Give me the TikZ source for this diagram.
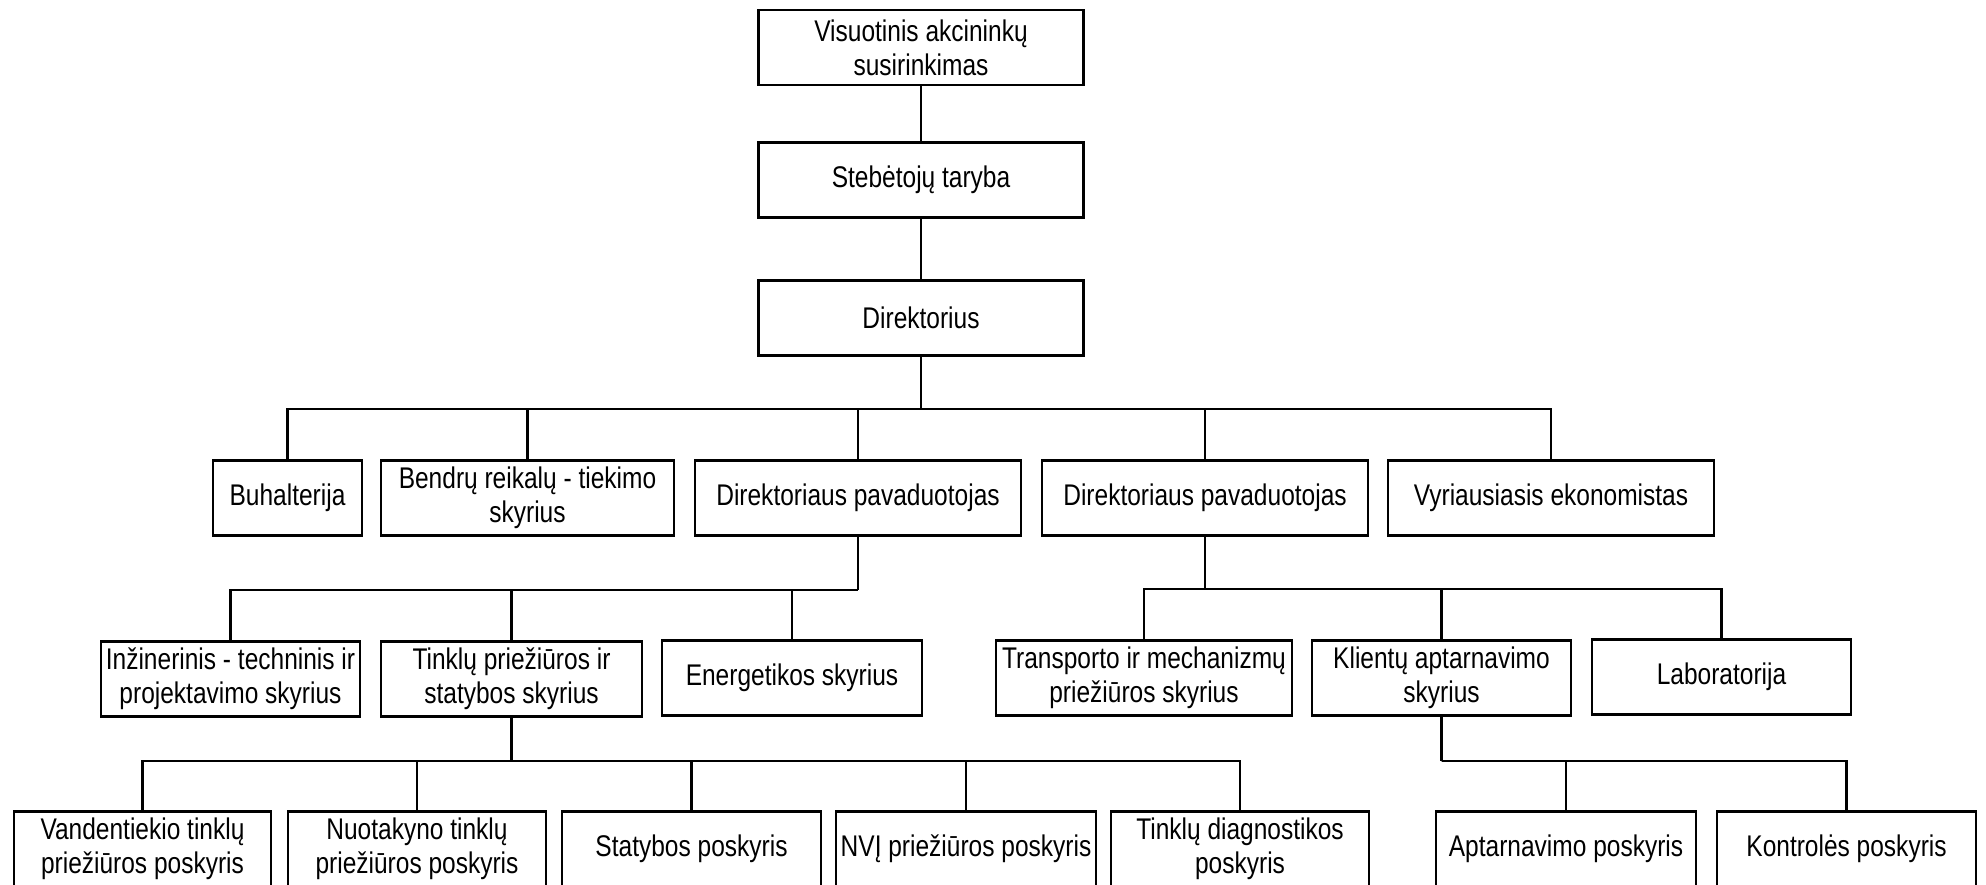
\documentclass[tikz,border=0pt]{standalone}
\usepackage{fontspec}
\setmainfont{Liberation Sans}[FakeStretch=0.82]
\usepackage{tikz}

\begin{document}
\begin{tikzpicture}[x=0.01cm, y=-0.01cm, line width=0.75pt,
        dept/.style={draw, minimum height=0.75cm, inner sep=1pt, align=center,
            font=\fontsize{8.5}{9.7}\selectfont}]
    \useasboundingbox (0,0) rectangle (1986,884);
    \clip (0,0) rectangle (1986,884);

    \node[dept, minimum width=3.25cm] (meeting) at (921,47.5) {Visuotinis akcininkų\\susirinkimas};
    \node[dept, minimum width=3.25cm] (board) at (921,180) {Stebėtojų taryba};
    \node[dept, minimum width=3.25cm] (director) at (921,318) {Direktorius};

    \node[dept, minimum width=1.49cm] (accounting) at (287.5,498) {Buhalterija};
    \node[dept, minimum width=2.93cm] (supply) at (527.5,498) {Bendrų reikalų - tiekimo\\skyrius};
    \node[dept, minimum width=3.26cm] (deputyA) at (858,498) {Direktoriaus pavaduotojas};
    \node[dept, minimum width=3.26cm] (deputyB) at (1205,498) {Direktoriaus pavaduotojas};
    \node[dept, minimum width=3.26cm] (economist) at (1551,498) {Vyriausiasis ekonomistas};

    \node[dept, minimum width=2.59cm] (engineering) at (230.5,679) {Inžinerinis - techninis ir\\projektavimo skyrius};
    \node[dept, minimum width=2.61cm] (networks) at (511.5,679) {Tinklų priežiūros ir\\statybos skyrius};
    \node[dept, minimum width=2.60cm] (energy) at (792,678) {Energetikos skyrius};
    \node[dept, minimum width=2.96cm] (transport) at (1144,678) {Transporto ir mechanizmų\\priežiūros skyrius};
    \node[dept, minimum width=2.59cm] (clients) at (1441.5,678) {Klientų aptarnavimo\\skyrius};
    \node[dept, minimum width=2.59cm] (lab) at (1721.5,677) {Laboratorija};

    \node[dept, minimum width=2.57cm] (water) at (142.5,849) {Vandentiekio tinklų\\priežiūros poskyris};
    \node[dept, minimum width=2.58cm] (sewer) at (417,849) {Nuotakyno tinklų\\priežiūros poskyris};
    \node[dept, minimum width=2.59cm] (building) at (691.5,849) {Statybos poskyris};
    \node[dept, minimum width=2.60cm] (nvi) at (966,849) {NVĮ priežiūros poskyris};
    \node[dept, minimum width=2.58cm] (diagnostics) at (1240,849) {Tinklų diagnostikos\\poskyris};
    \node[dept, minimum width=2.60cm] (service) at (1566,849) {Aptarnavimo poskyris};
    \node[dept, minimum width=2.59cm] (control) at (1846.5,849) {Kontrolės poskyris};

    \coordinate (busA) at (921,409);
    \coordinate (busB) at (858,590);
    \coordinate (busC) at (1205,589);
    \coordinate (busD) at (511.5,761);
    \coordinate (busE) at (1441.5,761);

    \draw (meeting) -- (board);
    \draw (board) -- (director);

    \draw (director) -- (busA);
    \draw (accounting) |- (busA) -| (economist);
    \foreach \n in {supply, deputyA, deputyB}
        \draw (\n) -- (\n |- busA);

    \draw (deputyA) -- (busB);
    \draw (engineering) |- (busB);
    \foreach \n in {networks, energy}
        \draw (\n) -- (\n |- busB);

    \draw (deputyB) -- (busC);
    \draw (transport) |- (busC) -| (lab);
    \draw (clients) -- (clients |- busC);

    \draw (networks) -- (busD);
    \draw (water) |- (busD) -| (diagnostics);
    \foreach \n in {sewer, building, nvi}
        \draw (\n) -- (\n |- busD);

    \draw (clients) -- (busE);
    \draw (service) |- (busE) -| (control);
\end{tikzpicture}
\end{document}
